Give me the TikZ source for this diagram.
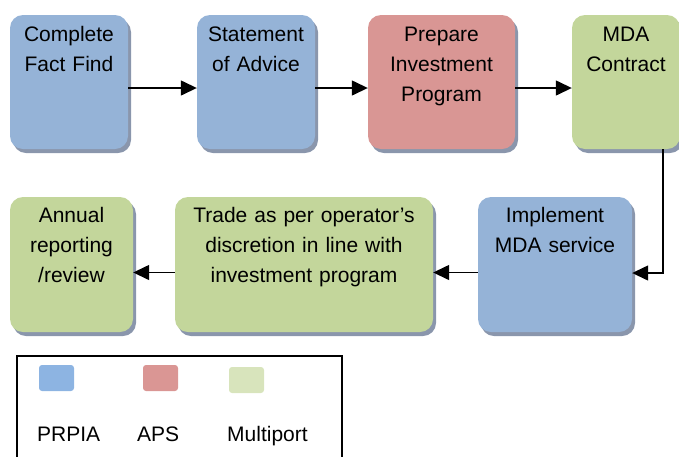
\documentclass[tikz,border=0pt]{standalone}
\usepackage{fontspec}
\setmainfont{Liberation Sans}
\usetikzlibrary{arrows.meta,shadows}

\definecolor{prpia}{RGB}{149,179,215}
\definecolor{aps}{RGB}{217,150,148}
\definecolor{multi}{RGB}{195,214,155}
\definecolor{shade}{RGB}{138,150,172}
\definecolor{keyblue}{RGB}{141,180,226}
\definecolor{keyred}{RGB}{218,150,148}
\definecolor{keygreen}{RGB}{216,228,188}

\begin{document}
\begin{tikzpicture}[x=1pt, y=-1pt,
        box/.style={rectangle, rounded corners=13pt, draw=none, minimum height=134pt,
            drop shadow={shadow xshift=3pt, shadow yshift=-4pt, fill=shade, opacity=1}},
        bluebox/.style={box, fill=prpia},
        redbox/.style={box, fill=aps},
        greenbox/.style={box, fill=multi},
        words/.style={anchor=base, inner sep=0pt, text width=250pt, align=center,
            font=\fontsize{21}{30}\selectfont},
        keybox/.style={rectangle, rounded corners=3pt, minimum width=35pt, minimum height=26pt},
        keytext/.style={anchor=base west, inner sep=0pt, font=\fontsize{21}{25}\selectfont},
        flow/.style={line width=1.4pt, -{Triangle[length=16pt, width=15pt]}}]
        \useasboundingbox (0, 0) rectangle (679, 456);
        
        % top row
        \node [bluebox, minimum width=118pt] (fact) at (69, 82) {};
        \node [bluebox, minimum width=118pt] (advice) at (256, 82) {};
        \node [redbox, minimum width=147pt] (prepare) at (441.5, 82) {};
        \node [greenbox, minimum width=108pt] (contract) at (626, 82) {};
        \node [words] (factT) at ([yshift=-27pt]fact.north) {Complete\\Fact Find};
        \node [words] (adviceT) at ([yshift=-27pt]advice.north) {Statement\\of Advice};
        \node [words] (prepareT) at ([yshift=-27pt]prepare.north) {Prepare\\Investment\\Program};
        \node [words] (contractT) at ([yshift=-27pt]contract.north) {MDA\\Contract};
        
        % bottom row
        \node [greenbox, minimum width=123pt, minimum height=135pt] (annual) at (71.5, 264.5) {};
        \node [greenbox, minimum width=258pt, minimum height=135pt] (trade) at (304, 264.5) {};
        \node [bluebox, minimum width=154pt, minimum height=135pt] (implement) at (555, 264.5) {};
        \node [words] (annualT) at ([yshift=-26pt]annual.north) {Annual\\reporting\\/review};
        \node [words] (tradeT) at ([yshift=-26pt]trade.north) {Trade as per operator’s\\discretion in line with\\investment program};
        \node [words] (implementT) at ([yshift=-26pt]implement.north) {Implement\\MDA service};
        
        % arrows
        \draw [flow] ([yshift=-6pt]fact.east) -- ([yshift=-6pt]advice.west);
        \draw [flow] ([yshift=-6pt]advice.east) -- ([yshift=-6pt]prepare.west);
        \draw [flow] ([yshift=-6pt]prepare.east) -- ([yshift=-6pt]contract.west);
        \draw [flow] ([xshift=37pt]contract.south) |- ([yshift=-8.5pt]implement.east);
        \draw [flow] ([yshift=-8pt]implement.west) -- ([yshift=-8pt]trade.east);
        \draw [flow] ([yshift=-8pt]trade.west) -- ([yshift=-8pt]annual.east);
        
        % key
        \draw [line width=1.5pt] (17, 470) -- (17, 356) -- (342, 356) -- (342, 470);
        \node [keybox, fill=keyblue] (keyP) at (56.5, 378) {};
        \node [keybox, fill=keyred] (keyA) at (160.5, 378) {};
        \node [keybox, fill=keygreen] (keyM) at (246.5, 380) {};
        \node [keytext] (keyPT) at (37, 441) {PRPIA};
        \node [keytext] (keyAT) at (137, 441) {APS};
        \node [keytext] (keyMT) at (227, 441) {Multiport};
\end{tikzpicture}
\end{document}
